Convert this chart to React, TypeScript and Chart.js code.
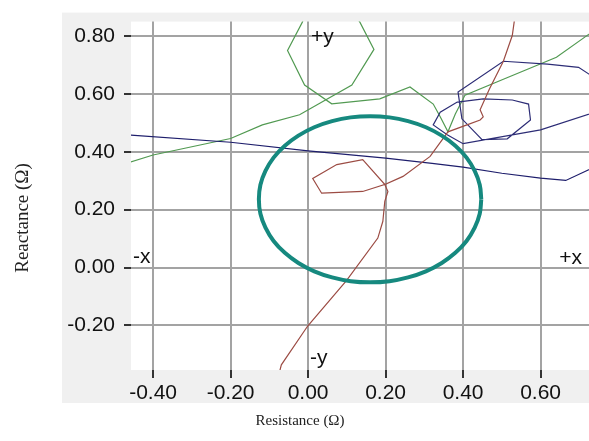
import React, { useEffect, useRef } from 'react';
import { Chart, registerables } from 'chart.js';

Chart.register(...registerables);

// Axis definitions
const X_TICKS = [-0.4, -0.2, 0, 0.2, 0.4, 0.6];
const Y_TICKS = [-0.2, 0, 0.2, 0.4, 0.6, 0.8];
const X_MIN = -0.457;
const X_MAX = 0.725;
const Y_MIN = -0.354;
const Y_MAX = 0.85;

const X_TITLE = 'Resistance (Ω)';
const Y_TITLE = 'Reactance (Ω)';

// Teal reference circle (10° steps)
const TEAL_CIRCLE: [number, number][] = [
  [0.447, 0.236], [0.443, 0.286], [0.43, 0.334], [0.409, 0.38], [0.38, 0.421], [0.345, 0.456],
  [0.304, 0.485], [0.258, 0.506], [0.21, 0.519], [0.16, 0.523], [0.11, 0.519], [0.062, 0.506],
  [0.016, 0.485], [-0.025, 0.456], [-0.06, 0.421], [-0.089, 0.38], [-0.11, 0.334], [-0.123, 0.286],
  [-0.127, 0.236], [-0.123, 0.186], [-0.11, 0.138], [-0.089, 0.092], [-0.06, 0.051], [-0.025, 0.016],
  [0.016, -0.013], [0.062, -0.034], [0.11, -0.047], [0.16, -0.051], [0.21, -0.047], [0.258, -0.034],
  [0.304, -0.013], [0.345, 0.016], [0.38, 0.051], [0.409, 0.092], [0.43, 0.138], [0.443, 0.186],
  [0.447, 0.236],
];

// Long navy trace
const NAVY_LINE: [number, number][] = [
  [-0.47, 0.459], [-0.2, 0.433], [0.0, 0.403], [0.2, 0.378], [0.32, 0.36], [0.4, 0.347],
  [0.5, 0.326], [0.6, 0.309], [0.665, 0.301], [0.76, 0.36],
];

// Navy loops, upper right
const NAVY_LOOPS: [number, number][] = [
  [0.76, 0.638], [0.698, 0.692], [0.618, 0.703], [0.504, 0.713], [0.387, 0.607], [0.397, 0.514],
  [0.449, 0.442], [0.514, 0.445], [0.574, 0.51], [0.569, 0.565], [0.527, 0.579], [0.452, 0.583],
  [0.385, 0.572], [0.341, 0.537], [0.323, 0.493], [0.359, 0.459], [0.4, 0.428], [0.6, 0.476],
  [0.76, 0.545],
];

// Green trace
const GREEN_PATH: [number, number][] = [
  [-0.47, 0.36], [-0.4, 0.389], [-0.2, 0.446], [-0.118, 0.493], [-0.022, 0.528], [0.113, 0.631],
  [0.17, 0.754], [0.133, 0.85], [0.08, 0.93], [-0.02, 0.9], [-0.014, 0.85], [-0.053, 0.75],
  [-0.009, 0.631], [0.061, 0.566], [0.185, 0.583], [0.263, 0.624], [0.323, 0.565], [0.341, 0.521],
  [0.361, 0.469], [0.38, 0.531], [0.405, 0.596], [0.504, 0.651], [0.641, 0.727], [0.76, 0.84],
];

// Brown trace
const BROWN_PATH: [number, number][] = [
  [-0.079, -0.389], [-0.069, -0.336], [-0.001, -0.202], [0.099, -0.045], [0.18, 0.102], [0.193, 0.16],
  [0.198, 0.229], [0.206, 0.263], [0.198, 0.287], [0.141, 0.263], [0.035, 0.257], [0.012, 0.308],
  [0.074, 0.356], [0.141, 0.373], [0.198, 0.287], [0.245, 0.315], [0.315, 0.384], [0.361, 0.469],
  [0.41, 0.493], [0.444, 0.51], [0.452, 0.521], [0.444, 0.545], [0.468, 0.617], [0.504, 0.713],
  [0.527, 0.802], [0.532, 0.85], [0.535, 0.898],
];

const QUADRANT_LABELS = ['+y', '-y', '-x', '+x'];

const TICK_FONT = { family: '"Liberation Sans", Arial, sans-serif', size: 21 };

const toPts = (arr: [number, number][]) => arr.map(([x, y]) => ({ x, y }));

const bgPlugin = {
  id: 'panelBg',
  beforeDraw(chart: any) {
    const { ctx, chartArea: a } = chart;
    ctx.save();
    ctx.fillStyle = '#f0f0f0';
    const left = a.left - 69;
    const top = a.top - 9;
    ctx.fillRect(left, top, chart.width - left, a.bottom + 33 - top);
    ctx.fillStyle = '#ffffff';
    ctx.fillRect(a.left, a.top, a.right - a.left, a.bottom - a.top);
    ctx.restore();
  },
};

const labelsPlugin = {
  id: 'quadLabels',
  afterDatasetsDraw(chart: any) {
    const { ctx, chartArea: a, scales } = chart;
    const xs = scales.x;
    const ys = scales.y;
    const x0 = xs.getPixelForValue(0);
    const y0 = ys.getPixelForValue(0);
    ctx.save();
    ctx.font = '21px "Liberation Sans", Arial, sans-serif';
    ctx.fillStyle = '#111111';
    ctx.textBaseline = 'alphabetic';
    ctx.textAlign = 'left';
    ctx.fillText(QUADRANT_LABELS[0], x0 + 3, ys.getPixelForValue(0.8) + 7);
    ctx.fillText(QUADRANT_LABELS[1], x0 + 2, a.bottom - 6);
    ctx.fillText(QUADRANT_LABELS[2], a.left + 2, y0 - 5);
    ctx.textAlign = 'right';
    ctx.fillText(QUADRANT_LABELS[3], a.right - 7, y0 - 4);
    ctx.restore();
  },
  afterDraw(chart: any) {
    const { ctx } = chart;
    ctx.save();
    ctx.fillStyle = '#222222';
    ctx.textAlign = 'center';
    ctx.textBaseline = 'middle';
    ctx.font = '15px "Liberation Serif", "Times New Roman", serif';
    ctx.fillText(X_TITLE, 300, 421);
    ctx.translate(23, 218);
    ctx.rotate(-Math.PI / 2);
    ctx.font = '19px "Liberation Serif", "Times New Roman", serif';
    ctx.fillText(Y_TITLE, 0, 0);
    ctx.restore();
  },
};

export default function App() {
  const ref = useRef<HTMLCanvasElement | null>(null);

  useEffect(() => {
    if (!ref.current) return;
    const line = (data: [number, number][], color: string, width: number, tension = 0) => ({
      data: toPts(data),
      showLine: true,
      borderColor: color,
      backgroundColor: color,
      borderWidth: width,
      pointRadius: 0,
      pointHoverRadius: 0,
      tension,
      fill: false,
      clip: 0,
    });
    const chart = new Chart(ref.current, {
      type: 'scatter',
      data: {
        datasets: [
          line(TEAL_CIRCLE, '#16897f', 4, 0.4),
          line(BROWN_PATH, '#9c4c44', 1.2),
          line(NAVY_LOOPS, '#2d2d76', 1.2),
          line(NAVY_LINE, '#1e1e6c', 1.2),
          line(GREEN_PATH, '#529a52', 1.2),
        ] as any,
      },
      options: {
        responsive: false,
        animation: false,
        events: [],
        layout: { padding: { top: 19, left: 0, right: 0, bottom: 0 } },
        plugins: { legend: { display: false }, tooltip: { enabled: false } },
        scales: {
          x: {
            type: 'linear',
            min: X_MIN,
            max: X_MAX,
            afterBuildTicks: (s: any) => {
              s.ticks = X_TICKS.map((v) => ({ value: v }));
            },
            afterFit: (s: any) => {
              s.height = 71;
            },
            border: { display: false },
            grid: { color: '#a3a3a3', lineWidth: 2, tickColor: '#333333', tickWidth: 2, tickLength: 8 },
            ticks: {
              font: TICK_FONT,
              color: '#111111',
              padding: 3,
              maxRotation: 0,
              autoSkip: false,
              callback: (v: any) => Number(v).toFixed(2),
            },
          },
          y: {
            type: 'linear',
            min: Y_MIN,
            max: Y_MAX,
            afterBuildTicks: (s: any) => {
              s.ticks = Y_TICKS.map((v) => ({ value: v }));
            },
            afterFit: (s: any) => {
              s.width = 131;
            },
            border: { display: false },
            grid: { color: '#a3a3a3', lineWidth: 2, tickColor: '#333333', tickWidth: 2, tickLength: 7 },
            ticks: {
              font: TICK_FONT,
              color: '#111111',
              padding: 9,
              autoSkip: false,
              callback: (v: any) => Number(v).toFixed(2),
            },
          },
        },
      } as any,
      plugins: [bgPlugin, labelsPlugin],
    });
    return () => chart.destroy();
  }, []);

  return (
    <div style={{ position: 'fixed', left: 0, top: 0, width: 589, height: 441, background: '#ffffff' }}>
      <canvas ref={ref} width={589} height={441} style={{ display: 'block', width: 589, height: 441 }} />
    </div>
  );
}
